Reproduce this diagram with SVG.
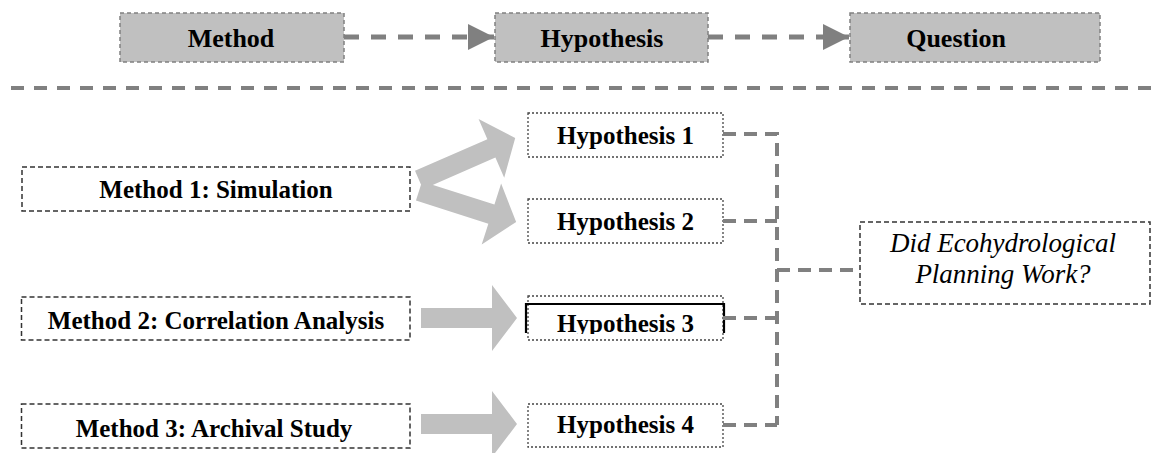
<svg xmlns="http://www.w3.org/2000/svg" width="1151" height="453" viewBox="0 0 1151 453">
<defs>
<style>
.tb{fill:#c0c0c0;stroke:#808080;stroke-width:1.5;stroke-dasharray:4 3}
.mb{fill:#fff;stroke:#333;stroke-width:1.5;stroke-dasharray:5 3}
.hb{fill:#fff;stroke:#444;stroke-width:1.3;stroke-dasharray:2 2}
.tt{font-family:"Liberation Serif","Times New Roman",serif;font-weight:bold;font-size:26px;fill:#000;text-anchor:middle}
.bt{font-family:"Liberation Serif","Times New Roman",serif;font-weight:bold;font-size:25px;fill:#000;text-anchor:middle}
.it{font-family:"Liberation Serif","Times New Roman",serif;font-style:italic;font-size:27px;fill:#000;text-anchor:middle}
.cn{fill:none;stroke:#808080;stroke-width:4;stroke-dasharray:13 8}
.ta{fill:none;stroke:#808080;stroke-width:5;stroke-dasharray:15 12}
.ba{fill:#c0c0c0}
</style>
<marker id="ah" markerUnits="userSpaceOnUse" markerWidth="26" markerHeight="26" refX="26" refY="13" orient="auto">
<path d="M0,0 L26,13 L0,26 Z" fill="#808080"/>
</marker>
<clipPath id="h3clip"><rect x="520" y="290" width="210" height="44"/></clipPath>
</defs>

<g id="top-method"><rect class="tb" x="120" y="13" width="224" height="49"/><text class="tt" x="231" y="47">Method</text></g>
<g id="top-hypothesis"><rect class="tb" x="495" y="13" width="213" height="49"/><text class="tt" x="602" y="47">Hypothesis</text></g>
<g id="top-question"><rect class="tb" x="850" y="13" width="250" height="49"/><text class="tt" x="956" y="47">Question</text></g>

<g id="separator"><line x1="11" y1="88" x2="1151" y2="88" stroke="#808080" stroke-width="4" stroke-dasharray="13 10"/></g>

<g id="method1"><rect class="mb" x="22" y="167" width="388" height="44"/><text class="bt" x="216" y="198">Method 1: Simulation</text></g>
<g id="method2"><rect class="mb" x="21.5" y="297" width="388.5" height="43"/><text class="bt" x="216" y="329">Method 2: Correlation Analysis</text></g>
<g id="method3"><rect class="mb" x="21.5" y="404" width="388.5" height="44"/><text class="bt" x="214" y="437">Method 3: Archival Study</text></g>

<g id="hyp1"><rect class="hb" x="528" y="113" width="195" height="44"/><text class="bt" x="625.5" y="144">Hypothesis 1</text></g>
<g id="hyp2"><rect class="hb" x="528" y="199" width="195" height="44"/><text class="bt" x="625.5" y="230">Hypothesis 2</text></g>
<g id="hyp3"><rect class="hb" x="528" y="296" width="195" height="44"/><text class="bt" x="625.5" y="332" clip-path="url(#h3clip)">Hypothesis 3</text><path d="M526,333 V304 H724 V333" fill="none" stroke="#000" stroke-width="2.2"/></g>
<g id="hyp4"><rect class="hb" x="528" y="404" width="195" height="43"/><text class="bt" x="625.5" y="433">Hypothesis 4</text></g>

<g id="question"><rect class="mb" x="860" y="222" width="290" height="82"/><text class="it" x="1003" y="252">Did Ecohydrological</text><text class="it" x="1003" y="283">Planning Work?</text></g>

<g id="connectors">
<line class="ta" x1="344" y1="37" x2="494" y2="37" marker-end="url(#ah)"/>
<line class="ta" x1="708" y1="37" x2="849" y2="37" marker-end="url(#ah)"/>
<polygon class="ba" transform="translate(419,180) rotate(-23.6)" points="0,-10 79,-10 79,-32 105,0 79,32 79,10 0,10"/>
<polygon class="ba" transform="translate(419,191) rotate(17.7)" points="0,-10 76,-10 76,-32 102,0 76,32 76,10 0,10"/>
<polygon class="ba" transform="translate(421,318)" points="0,-10 71,-10 71,-33 96,0 71,33 71,10 0,10"/>
<polygon class="ba" transform="translate(421,424)" points="0,-10 71,-10 71,-33 96,0 71,33 71,10 0,10"/>
<path class="cn" d="M723,134 H777 V425"/>
<path class="cn" d="M723,221 H777"/>
<path class="cn" d="M723,318 H777"/>
<path class="cn" d="M723,425 H777"/>
<path class="cn" d="M777,270 H860"/>
</g>
</svg>
